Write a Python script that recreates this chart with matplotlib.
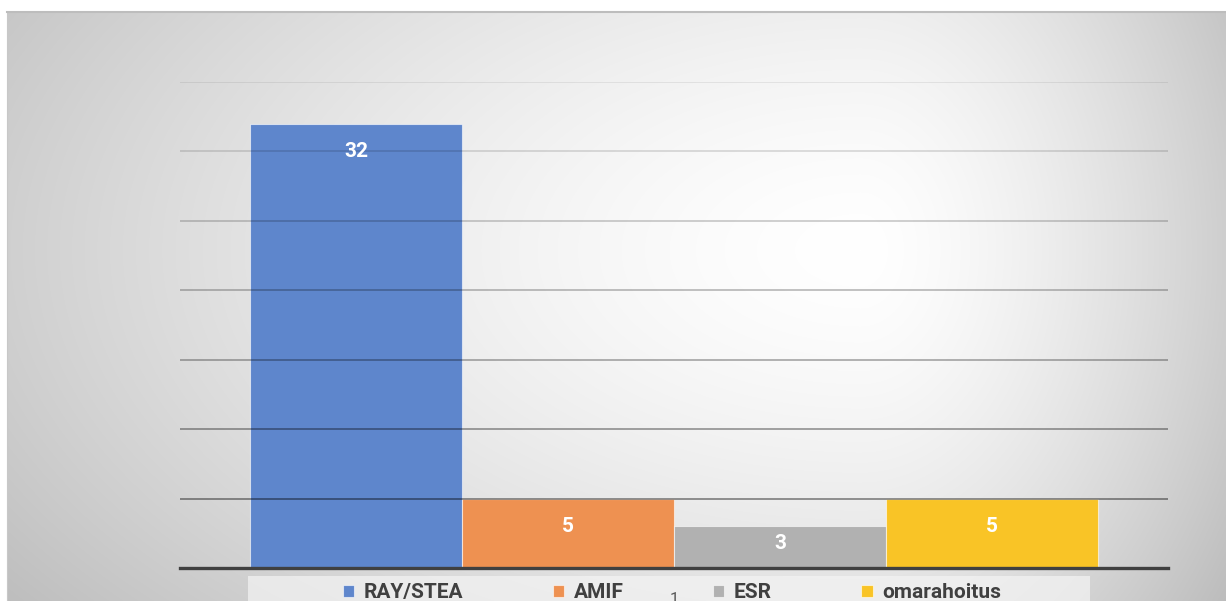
import numpy as np
import matplotlib
matplotlib.use('Agg')
from matplotlib import pyplot as plt
from matplotlib.patches import Rectangle

# data
categories = ['1']
series = ['RAY/STEA', 'AMIF', 'ESR', 'omarahoitus']
values = [32, 5, 3, 5]
colors = ['#5e86cc', '#ee9151', '#b1b1b1', '#f9c426']

plt.rcParams['font.family'] = ['Roboto', 'DejaVu Sans']

W, H = 1226, 601
fig = plt.figure(figsize=(W / 100, H / 100), dpi=100)
fig.patch.set_facecolor('white')

# background with the radial grey gradient
bg = fig.add_axes([7 / W, 0, (W - 7) / W, (H - 12) / H])
yy, xx = np.mgrid[12:H, 7:W].astype(float)
cx, cy = 860.0, 250.0
sx = np.where(xx < cx, 1000.0, 420.0)
t = np.sqrt(((xx - cx) / sx) ** 2 + ((yy - cy) / 560.0) ** 2)
t = np.clip(t, 0, 1.15) ** 1.5
v = np.clip(255 - 60 * t, 188, 255) / 255.0
bg.imshow(np.dstack([v, v, v]), aspect='auto', extent=[0, 1, 0, 1])
bg.set_xticks([])
bg.set_yticks([])
for s in ['right', 'bottom']:
    bg.spines[s].set_visible(False)
bg.spines['top'].set_color('#bdbdbd')
bg.spines['top'].set_linewidth(1.5)
bg.spines['left'].set_color('#c8c8c8')

# main plot
ax = fig.add_axes([180 / W, (H - 568) / H, 988 / W, 486 / H])
ax.patch.set_alpha(0)
w = 0.2146
x = np.arange(len(categories))
for i, (name, val, col) in enumerate(zip(series, values, colors)):
    ax.bar(x + (i - 1.5) * w, [val], w, color=col, label=name,
           edgecolor=(1, 1, 1, 0.6), linewidth=0.8, zorder=2)
    hpx = val * 486 / 35
    off = min(28, hpx * 0.4)
    ax.annotate(str(val), (x[0] + (i - 1.5) * w, val), xytext=(0, -off * 0.72),
                textcoords='offset points', ha='center', va='center',
                color='white', fontsize=15, fontweight='bold', zorder=4)

ax.set_xlim(-0.5, 0.5)
ax.set_ylim(0, 35)
for lv in range(5, 36, 5):
    a = 0.40 - (lv - 5) / 30 * 0.33
    ax.axhline(lv, color='black', alpha=a, lw=1.4, zorder=3)
ax.set_yticks([])
ax.set_xticks(x)
ax.set_xticklabels(categories, fontsize=12, color='#595959')
ax.tick_params(axis='x', length=0, pad=17)
for s in ['top', 'right', 'left']:
    ax.spines[s].set_visible(False)
ax.spines['bottom'].set_color('#404040')
ax.spines['bottom'].set_linewidth(2.4)
ax.spines['bottom'].set_zorder(5)

# legend box
ax.add_patch(Rectangle((248 / W, 0), 842 / W, 25 / H, transform=fig.transFigure,
                       facecolor='#f4f4f4', alpha=0.7, edgecolor='none',
                       zorder=1, clip_on=False))
leg = ax.legend(loc='upper center', bbox_to_anchor=(672 / W, 1 - 573 / H),
                bbox_transform=fig.transFigure, ncol=4, frameon=False,
                fontsize=15, handlelength=0.55, handleheight=0.55,
                handletextpad=0.45, columnspacing=4.3, borderpad=0)
leg.set_zorder(6)
for txt in leg.get_texts():
    txt.set_color('#404040')
    txt.set_fontweight('bold')

fig.savefig('out.png', dpi=100)
